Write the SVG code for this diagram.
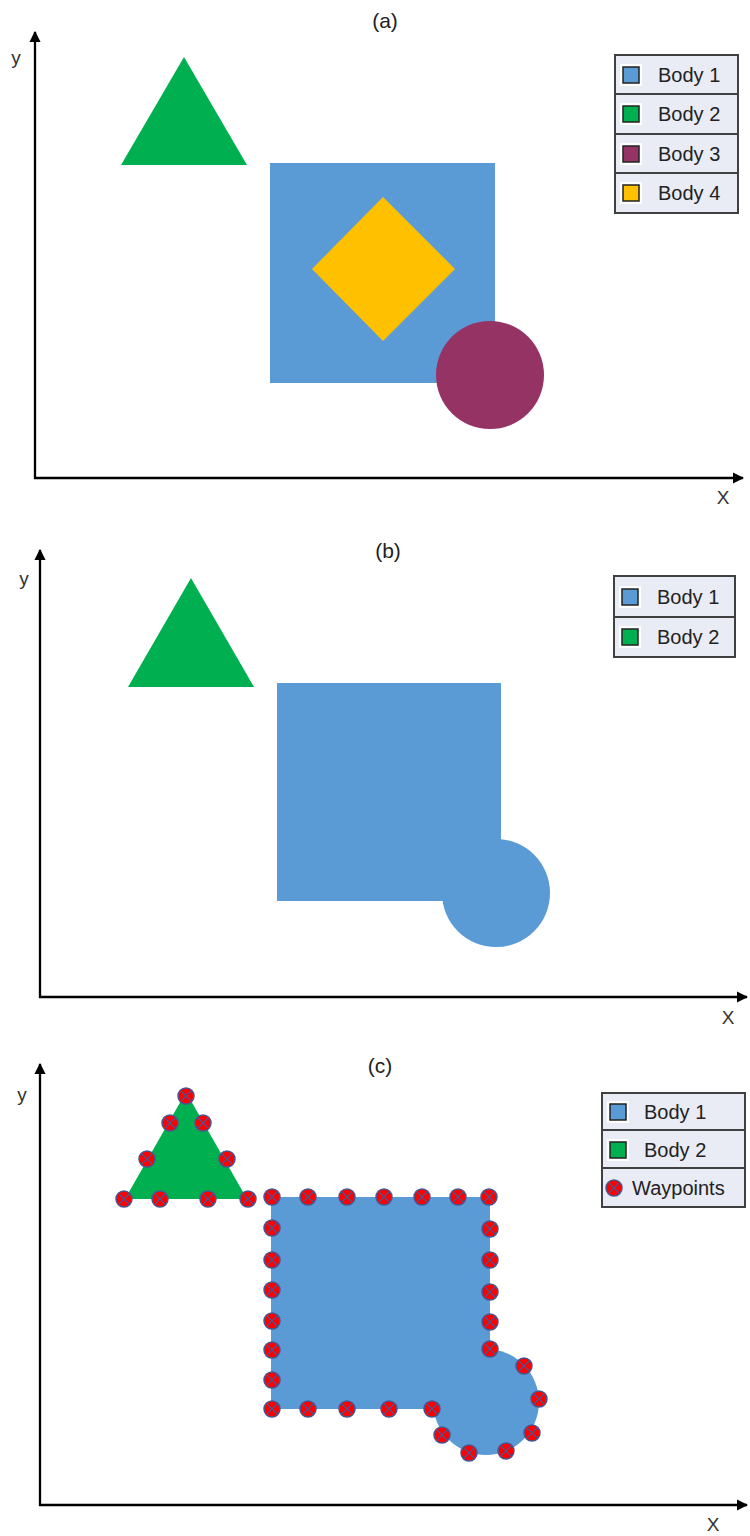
<svg xmlns="http://www.w3.org/2000/svg" width="750" height="1536" viewBox="0 0 750 1536">
<defs>
<style>
.t{font-family:"Liberation Sans",Arial,sans-serif;font-size:21px;fill:#222}
.ax{font-family:"Liberation Sans",Arial,sans-serif;font-size:19px;fill:#333}
.lg{font-family:"Liberation Sans",Arial,sans-serif;font-size:20px;fill:#222}
.axis{stroke:#000;stroke-width:2.3;fill:none}
.leg{fill:#E9EBF5;stroke:#404040;stroke-width:2}
.blue{fill:#5B9BD5}
.green{fill:#00B050}
.purple{fill:#953464}
.yellow{fill:#FFC000}
.ico{stroke:#222;stroke-width:1.5}
</style>
<marker id="ah" viewBox="0 0 10 10" refX="9" refY="5" markerWidth="5" markerHeight="5" orient="auto">
<path d="M0,0 L10,5 L0,10 z" fill="#000"/>
</marker>
<g id="wp">
<circle r="8" fill="#FF0000" stroke="#4A5590" stroke-width="1.5"/>
<path d="M-5,-5 L5,5 M5,-5 L-5,5" stroke="#4A5590" stroke-width="1.2"/>
</g>
</defs>
<rect width="750" height="1536" fill="#fff"/>

<!-- Panel (a) -->
<g id="panel-a">
<text class="t" x="385" y="28" text-anchor="middle">(a)</text>
<g id="axes-a">
<line class="axis" x1="35" y1="479" x2="35" y2="32" marker-end="url(#ah)"/>
<line class="axis" x1="34" y1="478" x2="743" y2="478" marker-end="url(#ah)"/>
<text class="ax" x="16" y="64" text-anchor="middle">y</text>
<text class="ax" x="723" y="504" text-anchor="middle">X</text>
</g>
<g id="a-body2"><polygon class="green" points="184,57 121,165 247,165"/></g>
<g id="a-body1"><rect class="blue" x="270" y="163" width="225" height="220"/></g>
<g id="a-body4"><polygon class="yellow" points="312,269 383,197 455,269 383,341"/></g>
<g id="a-body3"><circle class="purple" cx="490" cy="375" r="54"/></g>
<g id="a-legend">
<rect class="leg" x="615" y="55" width="123" height="158"/>
<line stroke="#404040" stroke-width="2" x1="615" y1="94" x2="738" y2="94"/>
<line stroke="#404040" stroke-width="2" x1="615" y1="134" x2="738" y2="134"/>
<line stroke="#404040" stroke-width="2" x1="615" y1="173" x2="738" y2="173"/>
<rect x="620" y="64" width="22" height="22" fill="#fff"/>
<rect class="blue ico" x="623" y="67" width="16" height="16"/>
<rect x="620" y="103" width="22" height="22" fill="#fff"/>
<rect class="green ico" x="623" y="106" width="16" height="16"/>
<rect x="620" y="143" width="22" height="22" fill="#fff"/>
<rect class="purple ico" x="623" y="146" width="16" height="16"/>
<rect x="620" y="182" width="22" height="22" fill="#fff"/>
<rect class="yellow ico" x="623" y="185" width="16" height="16"/>
<text class="lg" x="658" y="82">Body 1</text>
<text class="lg" x="658" y="121">Body 2</text>
<text class="lg" x="658" y="161">Body 3</text>
<text class="lg" x="658" y="200">Body 4</text>
</g>
</g>

<!-- Panel (b) -->
<g id="panel-b">
<text class="t" x="388" y="558" text-anchor="middle">(b)</text>
<g id="axes-b">
<line class="axis" x1="40" y1="998" x2="40" y2="550" marker-end="url(#ah)"/>
<line class="axis" x1="39" y1="997" x2="747" y2="997" marker-end="url(#ah)"/>
<text class="ax" x="24" y="585" text-anchor="middle">y</text>
<text class="ax" x="728" y="1024" text-anchor="middle">X</text>
</g>
<g id="b-body2"><polygon class="green" points="191,578 128,687 254,687"/></g>
<g id="b-body1">
<rect class="blue" x="277" y="683" width="224" height="218"/>
<circle class="blue" cx="496" cy="893" r="54"/>
</g>
<g id="b-legend">
<rect class="leg" x="614" y="576" width="121" height="81"/>
<line stroke="#404040" stroke-width="2" x1="614" y1="617" x2="735" y2="617"/>
<rect x="619" y="586" width="22" height="22" fill="#fff"/>
<rect class="blue ico" x="622" y="589" width="16" height="16"/>
<rect x="619" y="626" width="22" height="22" fill="#fff"/>
<rect class="green ico" x="622" y="629" width="16" height="16"/>
<text class="lg" x="657" y="604">Body 1</text>
<text class="lg" x="657" y="644">Body 2</text>
</g>
</g>

<!-- Panel (c) -->
<g id="panel-c">
<text class="t" x="380" y="1073" text-anchor="middle">(c)</text>
<g id="axes-c">
<line class="axis" x1="40" y1="1506" x2="40" y2="1064" marker-end="url(#ah)"/>
<line class="axis" x1="39" y1="1505" x2="747" y2="1505" marker-end="url(#ah)"/>
<text class="ax" x="22" y="1101" text-anchor="middle">y</text>
<text class="ax" x="713" y="1531" text-anchor="middle">X</text>
</g>
<g id="c-body2"><polygon class="green" points="186,1092 125,1199 247,1199"/></g>
<g id="c-body1">
<rect class="blue" x="271" y="1197" width="219" height="212"/>
<circle class="blue" cx="486" cy="1402" r="53"/>
</g>
<g id="c-waypoints">
<use href="#wp" x="186" y="1096"/>
<use href="#wp" x="170" y="1123"/>
<use href="#wp" x="203" y="1123"/>
<use href="#wp" x="147" y="1159"/>
<use href="#wp" x="227" y="1159"/>
<use href="#wp" x="124" y="1199"/>
<use href="#wp" x="160" y="1199"/>
<use href="#wp" x="208" y="1199"/>
<use href="#wp" x="248" y="1199"/>
<use href="#wp" x="272" y="1197"/>
<use href="#wp" x="308" y="1197"/>
<use href="#wp" x="347" y="1197"/>
<use href="#wp" x="384" y="1197"/>
<use href="#wp" x="422" y="1197"/>
<use href="#wp" x="458" y="1197"/>
<use href="#wp" x="489" y="1197"/>
<use href="#wp" x="272" y="1228"/>
<use href="#wp" x="272" y="1260"/>
<use href="#wp" x="272" y="1290"/>
<use href="#wp" x="272" y="1321"/>
<use href="#wp" x="272" y="1350"/>
<use href="#wp" x="272" y="1380"/>
<use href="#wp" x="272" y="1409"/>
<use href="#wp" x="490" y="1229"/>
<use href="#wp" x="490" y="1260"/>
<use href="#wp" x="490" y="1292"/>
<use href="#wp" x="490" y="1322"/>
<use href="#wp" x="490" y="1349"/>
<use href="#wp" x="524" y="1366"/>
<use href="#wp" x="539" y="1399"/>
<use href="#wp" x="532" y="1433"/>
<use href="#wp" x="506" y="1451"/>
<use href="#wp" x="469" y="1453"/>
<use href="#wp" x="442" y="1435"/>
<use href="#wp" x="432" y="1409"/>
<use href="#wp" x="389" y="1409"/>
<use href="#wp" x="347" y="1409"/>
<use href="#wp" x="308" y="1409"/>
</g>
<g id="c-legend">
<rect class="leg" x="602" y="1093" width="143" height="114"/>
<line stroke="#404040" stroke-width="2" x1="602" y1="1130" x2="745" y2="1130"/>
<line stroke="#404040" stroke-width="2" x1="602" y1="1168" x2="745" y2="1168"/>
<rect x="607" y="1101" width="22" height="22" fill="#fff"/>
<rect class="blue ico" x="610" y="1104" width="16" height="16"/>
<rect x="607" y="1139" width="22" height="22" fill="#fff"/>
<rect class="green ico" x="610" y="1142" width="16" height="16"/>
<use href="#wp" x="614" y="1188"/>
<text class="lg" x="644" y="1119">Body 1</text>
<text class="lg" x="644" y="1157">Body 2</text>
<text class="lg" x="632" y="1195">Waypoints</text>
</g>
</g>
</svg>
